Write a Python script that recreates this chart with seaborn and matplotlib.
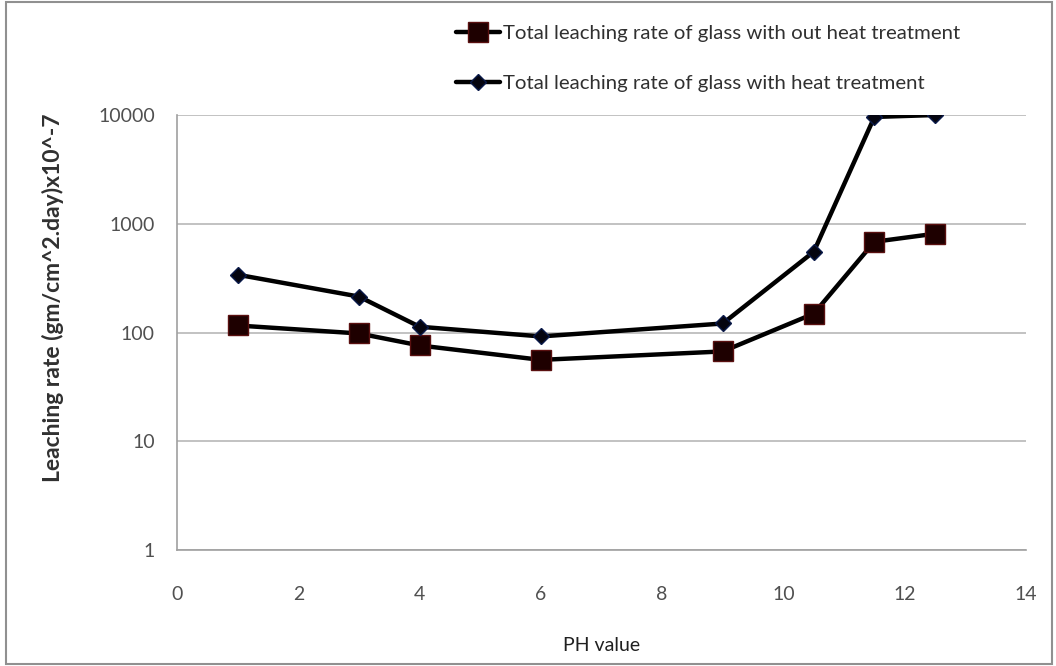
import matplotlib
matplotlib.use("Agg")
import matplotlib.pyplot as plt
import matplotlib.patches as mpatches
import numpy as np
import pandas as pd
import seaborn as sns

# data
ph = [1, 3, 4, 6, 9, 10.5, 11.5, 12.5]
without_heat = [116, 98, 76, 56, 67, 149, 683, 810]
with_heat = [340, 214, 113, 92, 121, 553, 9600, 10000]
label_without = "Total leaching rate of glass with out heat treatment"
label_with = "Total leaching rate of glass with heat treatment"

sns.set_style("white")
plt.rcParams['font.family'] = ['Lato', 'DejaVu Sans']

fig = plt.figure(figsize=(10.56, 6.66), dpi=100)
ax = fig.add_axes([0.1676, 0.1742, 0.8040, 0.6531])

sns.lineplot(x=ph, y=without_heat, ax=ax, color="black", linewidth=3.2,
             marker="s", markersize=14, markerfacecolor="#1e0000",
             markeredgecolor="#5a1010", markeredgewidth=1, label=label_without)
sns.lineplot(x=ph, y=with_heat, ax=ax, color="black", linewidth=3.2,
             marker="D", markersize=8.5, markerfacecolor="#050510",
             markeredgecolor="#0a1a4a", markeredgewidth=1, label=label_with)

ax.set_yscale("log")
ax.set_ylim(1, 10000)
ax.set_xlim(0, 14)
ax.set_xticks(range(0, 15, 2))
ax.set_yticks([1, 10, 100, 1000, 10000])
ax.set_yticklabels(["1", "10", "100", "1000", "10000"])
ax.minorticks_off()
ax.yaxis.grid(True, color="#b8b8b8", linewidth=1.2)
ax.xaxis.grid(False)
for s in ["top", "right"]:
    ax.spines[s].set_visible(False)
for s in ["left", "bottom"]:
    ax.spines[s].set_color("#a0a0a0")
    ax.spines[s].set_linewidth(1.2)
ax.tick_params(axis="both", which="major", direction="out", length=6,
               color="#a0a0a0", labelsize=14, labelcolor="#505050")
ax.tick_params(axis="x", pad=20)
ax.tick_params(axis="y", pad=10)

ax.set_xlabel("PH value", fontsize=14, color="#202020")
ax.xaxis.set_label_coords(0.5, -0.2)
ax.set_ylabel("Leaching rate (gm/cm^2.day)x10^-7", fontsize=16.5,
              fontweight="bold", color="#303030")
ax.yaxis.set_label_coords(-0.133, 0.58)

handles, labels = ax.get_legend_handles_labels()
ax.get_legend().remove()
fig.legend(handles, labels, loc="upper left", bbox_to_anchor=(0.414, 0.99),
           frameon=False, fontsize=14.7, labelspacing=1.6, handlelength=2.2,
           handletextpad=0.1, labelcolor="#303030")

# thin frame round the whole picture
fig.patches.append(mpatches.Rectangle((0.006, 0.003), 0.99, 0.994,
                                      transform=fig.transFigure, fill=False,
                                      edgecolor="#909090", linewidth=1.5))

fig.savefig("out.png", dpi=100)
